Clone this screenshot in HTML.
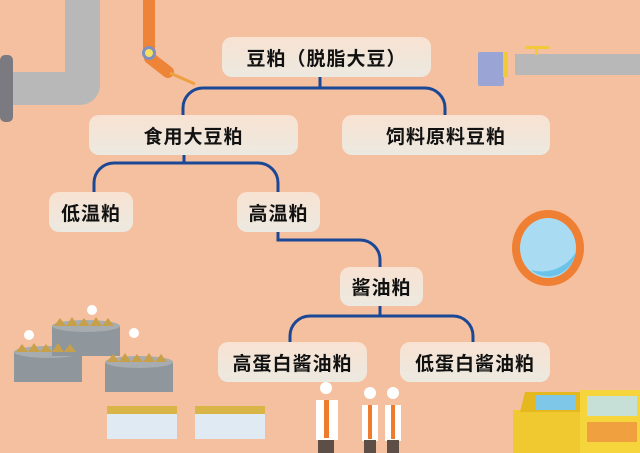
<!DOCTYPE html>
<html><head><meta charset="utf-8"><style>
body{margin:0;width:640px;height:453px;overflow:hidden;background:#f5c09f;position:relative;font-family:"Liberation Sans","Noto Sans CJK SC",sans-serif}
.b{position:absolute;border-radius:10px;background:linear-gradient(#f8e2d2,#ece9e0);display:flex;align-items:center;justify-content:center;font-weight:bold;font-size:19px;color:#111;letter-spacing:1px}
svg{position:absolute;left:0;top:0}
</style></head><body>
<svg width="640" height="453">
<!-- left pipe -->
<path d="M65 0h35v85a20 20 0 0 1-20 20H10V72h55z" fill="#b8b8b8"/>
<rect x="0" y="55" width="13" height="67" rx="5" fill="#7a7a80"/>
<!-- orange arm -->
<rect x="143" y="0" width="12" height="52" fill="#ee8438"/>
<line x1="150" y1="58" x2="168" y2="72" stroke="#ee8438" stroke-width="12" stroke-linecap="round"/>
<line x1="170" y1="73" x2="195" y2="84" stroke="#eea040" stroke-width="3"/>
<circle cx="149" cy="53" r="7" fill="#7f8fc0"/><circle cx="149" cy="53" r="4" fill="#f7e060"/>
<!-- right faucet -->
<rect x="515" y="54" width="125" height="21" fill="#b8b8b8"/>
<rect x="478" y="52" width="26" height="34" rx="2" fill="#9aa5d6"/>
<rect x="503" y="52" width="5" height="25" fill="#f2c93a"/>
<rect x="525" y="46" width="24" height="3" fill="#f2c93a"/><rect x="535" y="48" width="3" height="7" fill="#f2c93a"/>
<!-- porthole -->
<ellipse cx="548" cy="248" rx="36" ry="38" fill="#ef7f33"/>
<ellipse cx="548" cy="248" rx="28" ry="30" fill="#a9dcf3"/>
<path d="M576 252a28 30 0 0 1-45 18 40 40 0 0 0 45-18z" fill="#6cc3ea"/>
<!-- connectors -->
<g fill="none" stroke="#1a4896" stroke-width="3">
<path d="M320 77v11"/><path d="M183 115v-7a20 20 0 0 1 20-20h222a20 20 0 0 1 20 20v7"/>
<path d="M184 155v8"/><path d="M94 192v-9a20 20 0 0 1 20-20h144a20 20 0 0 1 20 20v9"/>
<path d="M278 232v8h82a20 20 0 0 1 20 20v7"/>
<path d="M380 306v10"/><path d="M290 342v-6a20 20 0 0 1 20-20h143a20 20 0 0 1 20 20v6"/>
</g>
<!-- steamers -->
<g>
<rect x="14" y="352" width="68" height="30" fill="#8f979c"/><ellipse cx="48" cy="352" rx="34" ry="6" fill="#a6acaf"/>
<rect x="52" y="326" width="68" height="30" fill="#8f979c"/><ellipse cx="86" cy="326" rx="34" ry="6" fill="#a6acaf"/>
<rect x="105" y="362" width="68" height="30" fill="#8f979c"/><ellipse cx="139" cy="362" rx="34" ry="6" fill="#a6acaf"/>
<path d="M16 352l6-8 6 8 6-9 6 9 6-8 6 8 6-9 6 9 6-8 6 8z" fill="#c9a04a"/>
<path d="M54 326l6-8 6 8 6-9 6 9 6-8 6 8 6-9 6 9 6-8 6 8z" fill="#c9a04a"/>
<path d="M107 362l6-8 6 8 6-9 6 9 6-8 6 8 6-9 6 9 6-8 6 8z" fill="#c9a04a"/>
<circle cx="92" cy="310" r="5" fill="#fff"/><circle cx="29" cy="335" r="5" fill="#fff"/><circle cx="134" cy="333" r="5" fill="#fff"/>
</g>
<!-- trays -->
<rect x="107" y="412" width="70" height="27" fill="#dfeaf3"/><rect x="107" y="406" width="70" height="8" fill="#d9b447"/>
<rect x="195" y="412" width="70" height="27" fill="#dfeaf3"/><rect x="195" y="406" width="70" height="8" fill="#d9b447"/>
<!-- workers -->
<g fill="#fff">
<rect x="316" y="400" width="22" height="40"/><rect x="362" y="405" width="16" height="36"/><rect x="385" y="405" width="16" height="36"/>
<circle cx="326" cy="388" r="6"/><circle cx="370" cy="393" r="6"/><circle cx="393" cy="393" r="6"/>
</g>
<rect x="324" y="400" width="5" height="38" fill="#ef7b2e"/><rect x="368" y="405" width="4" height="34" fill="#ef7b2e"/><rect x="391" y="405" width="4" height="34" fill="#ef7b2e"/>
<rect x="318" y="440" width="16" height="13" fill="#5d4f45"/><rect x="364" y="440" width="12" height="13" fill="#5d4f45"/><rect x="387" y="440" width="12" height="13" fill="#5d4f45"/>
<!-- machine -->
<rect x="513" y="410" width="70" height="43" fill="#f0c830"/>
<path d="M525 392h60v20h-65z" fill="#e6b820"/><rect x="536" y="395" width="40" height="15" fill="#7ec7e8"/>
<rect x="580" y="390" width="60" height="63" fill="#f6d43c"/>
<rect x="587" y="396" width="50" height="20" fill="#c6e0d8"/>
<rect x="587" y="422" width="50" height="20" fill="#f1a040"/>
</svg>
<div class="b" style="left:222px;top:37px;width:209px;height:40px">豆粕（脱脂大豆）</div>
<div class="b" style="left:89px;top:115px;width:209px;height:40px">食用大豆粕</div>
<div class="b" style="left:342px;top:115px;width:208px;height:40px">饲料原料豆粕</div>
<div class="b" style="left:49px;top:192px;width:84px;height:40px">低温粕</div>
<div class="b" style="left:237px;top:192px;width:83px;height:40px">高温粕</div>
<div class="b" style="left:340px;top:267px;width:83px;height:39px">酱油粕</div>
<div class="b" style="left:218px;top:342px;width:149px;height:40px">高蛋白酱油粕</div>
<div class="b" style="left:400px;top:342px;width:150px;height:40px">低蛋白酱油粕</div>
</body></html>
